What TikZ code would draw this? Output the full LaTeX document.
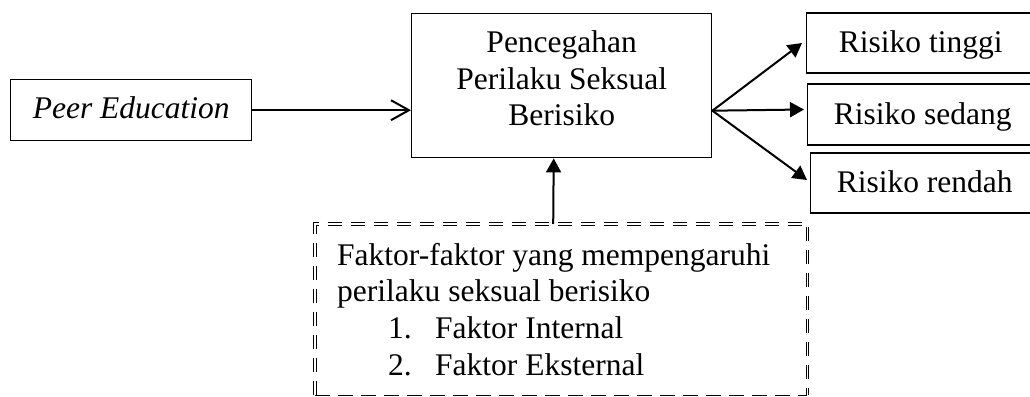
\documentclass[tikz,border=0pt]{standalone}
\usepackage{fontspec}
\setmainfont{Liberation Serif}
\usetikzlibrary{arrows.meta}
\begin{document}
\begin{tikzpicture}[x=1pt,y=-1pt,
  txt/.style={font=\fontsize{31.5}{36.6}\selectfont},
  box/.style={draw, line width=1.4pt, inner sep=0pt, txt},
  arr/.style={line width=2pt, -{Triangle[length=14pt,width=15pt]}},
  openarr/.style={line width=2pt, -{Straight Barb[length=18pt,width=20pt]}},
  dashdouble/.style={double, double distance=1.6pt, line width=0.9pt, dash pattern=on 14pt off 9pt},
  dashsingle/.style={line width=1.8pt, dash pattern=on 15pt off 8pt},
]
\clip (0,0) rectangle (1030,396);

\node[box, anchor=north west, minimum width=241pt, minimum height=61pt,
      text height=22pt, text depth=5pt] (peer) at (10,79) {\itshape Peer Education};

\node[box, anchor=north west] (main) at (411,13)
  {\parbox[c][144pt][t]{300pt}{\centering\rule{0pt}{39pt}Pencegahan\\Perilaku Seksual\\Berisiko}};

\node[box, anchor=west, minimum width=228pt, minimum height=60pt,
      text height=24pt, text depth=5pt] (tinggi) at (806,43) {Risiko tinggi};
\node[box, anchor=west, minimum width=230pt, minimum height=61pt,
      text height=24pt, text depth=5pt] (sedang) at (807,114.5) {Risiko sedang};
\node[box, anchor=west, minimum width=228pt, minimum height=60pt,
      text height=24pt, text depth=5pt] (rendah) at (810,183) {Risiko rendah};

\node[inner sep=0pt, anchor=north west, txt] (fak) at (315,224)
  {\parbox[c][171pt][t]{492pt}{\raggedright\setlength{\leftskip}{22pt}%
   \rule{0pt}{41pt}Faktor-faktor yang mempengaruhi\\
   perilaku seksual berisiko\\
   \hspace*{51pt}\makebox[47pt][l]{1.}Faktor Internal\\
   \hspace*{51pt}\makebox[47pt][l]{2.}Faktor Eksternal}};

\draw[dashdouble] (fak.south west) -- (fak.north west) -- (fak.north east) -- (fak.south east);
\draw[dashsingle] (fak.south west) -- (fak.south east);

\draw[openarr] (peer.east) -- (peer.east -| main.west);
\draw[arr] ([yshift=-25pt]main.east) -- ([xshift=-4pt]tinggi.west);
\draw[arr] ([yshift=-25pt]main.east) -- ([xshift=-3pt,yshift=5pt]sedang.west);
\draw[arr] ([yshift=-25pt]main.east) -- ([xshift=-3pt,yshift=3pt]rendah.west);
\draw[arr] ([xshift=-8pt]fak.north) -- ([xshift=-8pt]main.south);
\end{tikzpicture}
\end{document}
